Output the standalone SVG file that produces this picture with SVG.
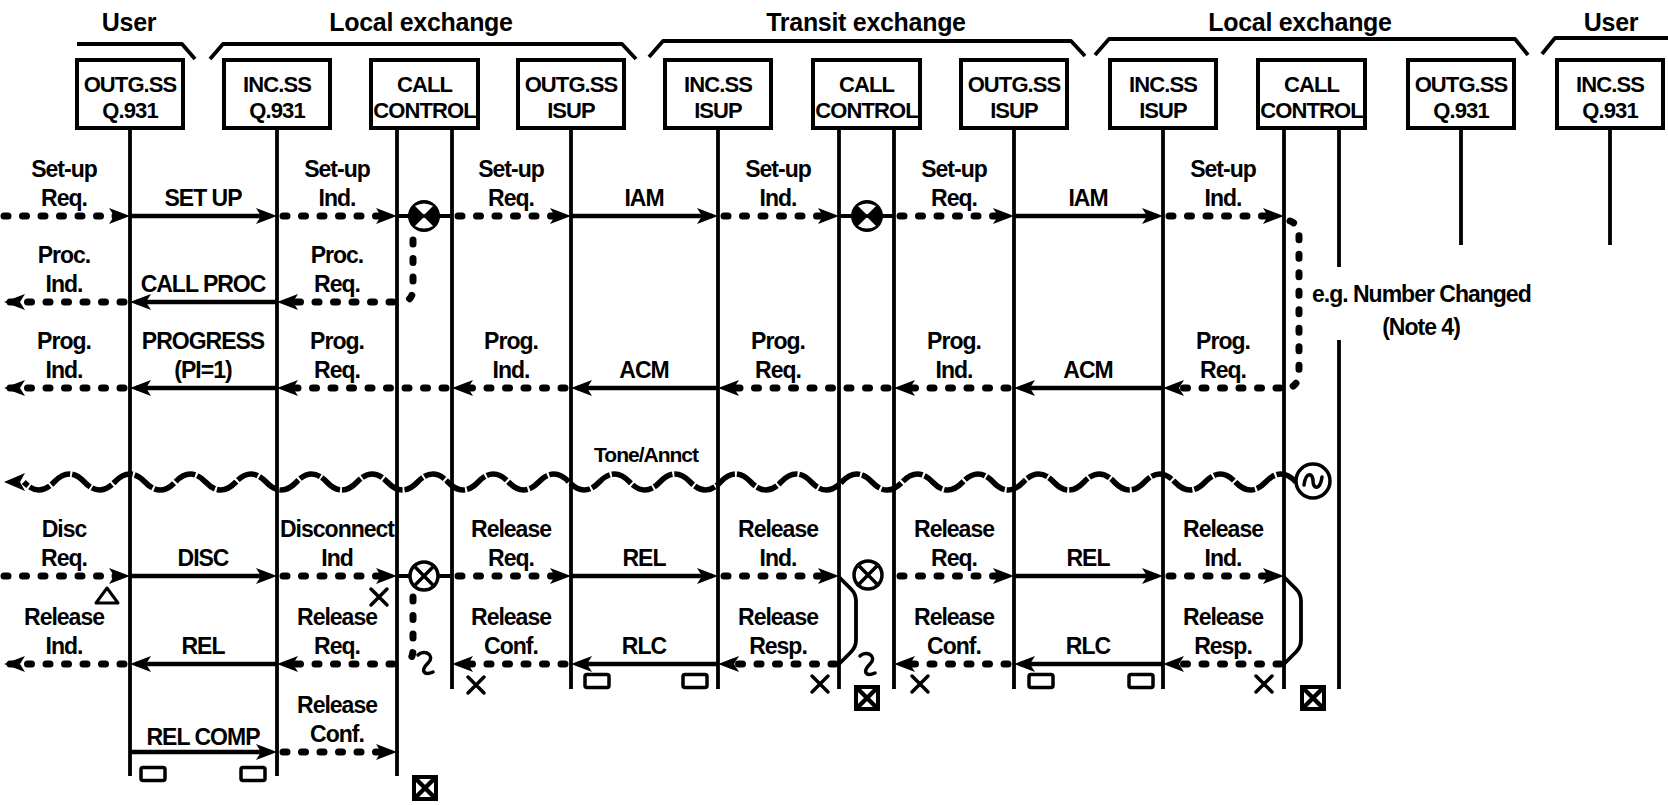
<svg xmlns="http://www.w3.org/2000/svg" width="1668" height="805" viewBox="0 0 1668 805">
<defs>
<style>
text{font-family:"Liberation Sans",Arial,Helvetica,sans-serif;font-weight:bold;fill:#000}
.tt{font-size:25px;letter-spacing:-0.3px;text-anchor:middle}
.bt{font-size:22px;letter-spacing:-0.9px;text-anchor:middle}
.lb{font-size:23px;letter-spacing:-1px;text-anchor:middle}
.box{fill:#fff;stroke:#000;stroke-width:4}
.ll{stroke:#000;stroke-width:3.8;fill:none}
.brk{stroke:#000;stroke-width:3.8;fill:none;stroke-linejoin:round}
.sol{stroke:#000;stroke-width:4.5;fill:none;marker-end:url(#ah)}
.dot{stroke:#000;stroke-width:7;stroke-linecap:round;stroke-dasharray:4 14.5;fill:none}
.da{marker-end:url(#ah)}
.stub{stroke:#000;stroke-width:4}
.sym{fill:#fff;stroke:#000;stroke-width:3.5}
.thk{stroke:#000;stroke-width:3.5;fill:none;stroke-linecap:round}
.wave{stroke:#000;stroke-width:5.5;fill:none;stroke-dasharray:22 2}
</style>
<marker id="ah" markerUnits="userSpaceOnUse" markerWidth="22" markerHeight="18" viewBox="0 0 22 18" refX="15" refY="9" orient="auto">
<path d="M0,1 L21,9 L0,17 L5,9 Z" fill="#000"/>
</marker>
<g id="ccf">
<circle r="16" fill="#000"/>
<path d="M-9,-10 Q0,-15 9,-10 L1.5,-2.5 Q0,-1 -1.5,-2.5 Z" fill="#fff"/>
<path d="M-9,10 Q0,15 9,10 L1.5,2.5 Q0,1 -1.5,2.5 Z" fill="#fff"/>
</g>
<g id="cco">
<circle r="14" class="sym"/>
<path d="M-9.9,-9.9 L9.9,9.9 M-9.9,9.9 L9.9,-9.9" class="thk"/>
</g>
<g id="sqx">
<rect x="-11" y="-11" width="22" height="22" fill="#fff" stroke="#000" stroke-width="4"/>
<path d="M-10,-10 L10,10 M-10,10 L10,-10" stroke="#000" stroke-width="4.5"/>
</g>
<g id="xm">
<path d="M-8,-8 L8,8 M-8,8 L8,-8" class="thk"/>
</g>
<g id="rr">
<rect x="-12" y="-6.5" width="24" height="13" rx="2" class="sym"/>
</g>
<g id="sq">
<path d="M-7,-9 C-1,-15 11,-9 3,-1 C-5,7 -1,12 8,8" class="thk" stroke-width="4"/>
</g>
</defs>
<rect width="1668" height="805" fill="#fff"/>

<g id="titles">
<text class="tt" x="129" y="31">User</text>
<text class="tt" x="421" y="31">Local exchange</text>
<text class="tt" x="866" y="31">Transit exchange</text>
<text class="tt" x="1300" y="31">Local exchange</text>
<text class="tt" x="1611" y="31">User</text>
<path class="brk" d="M77,44 L182,44 L195,59"/>
<path class="brk" d="M210,59 L223,44 L622,44 L636,59"/>
<path class="brk" d="M649,57 L663,41 L1071,41 L1085,56"/>
<path class="brk" d="M1095,55 L1109,39 L1515,39 L1528,55"/>
<path class="brk" d="M1542,54 L1555,38 L1668,38"/>
</g>

<g id="n1"><line class="ll" x1="130" y1="128" x2="130" y2="776"/><rect class="box" x="77" y="60" width="106" height="68"/><text class="bt" x="130" y="92">OUTG.SS</text><text class="bt" x="130" y="118">Q.931</text></g>
<g id="n2"><line class="ll" x1="277" y1="128" x2="277" y2="776"/><rect class="box" x="224" y="60" width="106" height="68"/><text class="bt" x="277" y="92">INC.SS</text><text class="bt" x="277" y="118">Q.931</text></g>
<g id="n3"><line class="ll" x1="397" y1="128" x2="397" y2="776"/><line class="ll" x1="452" y1="128" x2="452" y2="689"/><rect class="box" x="371" y="60" width="107" height="68"/><text class="bt" x="424.5" y="92">CALL</text><text class="bt" x="424.5" y="118">CONTROL</text></g>
<g id="n4"><line class="ll" x1="571" y1="128" x2="571" y2="689"/><rect class="box" x="518" y="60" width="106" height="68"/><text class="bt" x="571" y="92">OUTG.SS</text><text class="bt" x="571" y="118">ISUP</text></g>
<g id="n5"><line class="ll" x1="718" y1="128" x2="718" y2="689"/><rect class="box" x="665" y="60" width="106" height="68"/><text class="bt" x="718" y="92">INC.SS</text><text class="bt" x="718" y="118">ISUP</text></g>
<g id="n6"><line class="ll" x1="839" y1="128" x2="839" y2="689"/><line class="ll" x1="894" y1="128" x2="894" y2="689"/><rect class="box" x="813" y="60" width="107" height="68"/><text class="bt" x="866.5" y="92">CALL</text><text class="bt" x="866.5" y="118">CONTROL</text></g>
<g id="n7"><line class="ll" x1="1014" y1="128" x2="1014" y2="689"/><rect class="box" x="961" y="60" width="106" height="68"/><text class="bt" x="1014" y="92">OUTG.SS</text><text class="bt" x="1014" y="118">ISUP</text></g>
<g id="n8"><line class="ll" x1="1163" y1="128" x2="1163" y2="689"/><rect class="box" x="1110" y="60" width="106" height="68"/><text class="bt" x="1163" y="92">INC.SS</text><text class="bt" x="1163" y="118">ISUP</text></g>
<g id="n9"><line class="ll" x1="1284" y1="128" x2="1284" y2="689"/><line class="ll" x1="1339" y1="128" x2="1339" y2="267"/><line class="ll" x1="1339" y1="340" x2="1339" y2="689"/><rect class="box" x="1258" y="60" width="107" height="68"/><text class="bt" x="1311.5" y="92">CALL</text><text class="bt" x="1311.5" y="118">CONTROL</text></g>
<g id="n10"><line class="ll" x1="1461" y1="128" x2="1461" y2="245"/><rect class="box" x="1408" y="60" width="106" height="68"/><text class="bt" x="1461" y="92">OUTG.SS</text><text class="bt" x="1461" y="118">Q.931</text></g>
<g id="n11"><line class="ll" x1="1610" y1="128" x2="1610" y2="245"/><rect class="box" x="1557" y="60" width="106" height="68"/><text class="bt" x="1610" y="92">INC.SS</text><text class="bt" x="1610" y="118">Q.931</text></g>

<g id="connectors">
<line class="dot da" x1="4" y1="216" x2="124" y2="216"/>
<line class="sol" x1="131" y1="216" x2="271" y2="216"/>
<line class="dot da" x1="283" y1="216" x2="391" y2="216"/>
<line class="stub" x1="397" y1="216" x2="410" y2="216"/>
<line class="stub" x1="438" y1="216" x2="452" y2="216"/>
<line class="dot da" x1="458" y1="216" x2="565" y2="216"/>
<line class="sol" x1="572" y1="216" x2="712" y2="216"/>
<line class="dot da" x1="724" y1="216" x2="833" y2="216"/>
<line class="stub" x1="839" y1="216" x2="853" y2="216"/>
<line class="stub" x1="881" y1="216" x2="894" y2="216"/>
<line class="dot da" x1="900" y1="216" x2="1008" y2="216"/>
<line class="sol" x1="1015" y1="216" x2="1157" y2="216"/>
<line class="dot da" x1="1169" y1="216" x2="1278" y2="216"/>
<path class="dot" d="M413,240 L413,289 Q413,301 401,302"/>
<path class="dot" d="M1290,221 Q1299,224 1299,237 L1299,372 Q1299,385 1289,388"/>
<line class="dot da" x1="393" y1="302" x2="283" y2="302"/>
<line class="sol" x1="277" y1="302" x2="136" y2="302"/>
<line class="dot da" x1="124" y1="302" x2="10" y2="302"/>
<line class="dot da" x1="1280" y1="388" x2="1169" y2="388"/>
<line class="sol" x1="1163" y1="388" x2="1020" y2="388"/>
<line class="dot da" x1="1008" y1="388" x2="900" y2="388"/>
<line class="dot da" x1="888" y1="388" x2="724" y2="388"/>
<line class="sol" x1="718" y1="388" x2="577" y2="388"/>
<line class="dot da" x1="565" y1="388" x2="458" y2="388"/>
<line class="dot da" x1="446" y1="388" x2="283" y2="388"/>
<line class="sol" x1="277" y1="388" x2="136" y2="388"/>
<line class="dot da" x1="124" y1="388" x2="10" y2="388"/>
<path class="wave" d="M1296,482 q-15.14,-16 -30.29,0 t-30.29,0 t-30.29,0 t-30.29,0 t-30.29,0 t-30.29,0 t-30.29,0 t-30.29,0 t-30.29,0 t-30.29,0 t-30.29,0 t-30.29,0 t-30.29,0 t-30.29,0 t-30.29,0 t-30.29,0 t-30.29,0 t-30.29,0 t-30.29,0 t-30.29,0 t-30.29,0 t-30.29,0 t-30.29,0 t-30.29,0 t-30.29,0 t-30.29,0 t-30.29,0 t-30.29,0 t-30.29,0 t-30.29,0 t-30.29,0 t-30.29,0 t-30.29,0 t-30.29,0 t-30.29,0 t-30.29,0 t-30.29,0 t-30.29,0 t-30.29,0 t-30.29,0 t-30.29,0 t-30.29,0"/>
<path d="M4,482 L25,473 L20,482 L25,491 Z" fill="#000"/>
<line class="dot da" x1="4" y1="576" x2="124" y2="576"/>
<line class="sol" x1="131" y1="576" x2="271" y2="576"/>
<line class="dot da" x1="283" y1="576" x2="391" y2="576"/>
<line class="stub" x1="397" y1="576" x2="410" y2="576"/>
<line class="stub" x1="438" y1="576" x2="452" y2="576"/>
<line class="dot da" x1="458" y1="576" x2="565" y2="576"/>
<line class="sol" x1="572" y1="576" x2="712" y2="576"/>
<line class="dot da" x1="724" y1="576" x2="833" y2="576"/>
<line class="dot da" x1="900" y1="576" x2="1008" y2="576"/>
<line class="sol" x1="1015" y1="576" x2="1157" y2="576"/>
<line class="dot da" x1="1169" y1="576" x2="1278" y2="576"/>
<path class="dot" d="M413,597 L413,650 Q413,662 401,664"/>
<path class="brk" stroke-width="4.5" d="M839,577 L851,589 Q856,594 856,601 L856,640 Q856,647 851,652 L839,664"/>
<path class="brk" stroke-width="4.5" d="M1284,577 L1296,589 Q1301,594 1301,601 L1301,640 Q1301,647 1296,652 L1284,664"/>
<line class="dot da" x1="1280" y1="664" x2="1169" y2="664"/>
<line class="sol" x1="1163" y1="664" x2="1020" y2="664"/>
<line class="dot da" x1="1008" y1="664" x2="900" y2="664"/>
<line class="dot da" x1="835" y1="664" x2="724" y2="664"/>
<line class="sol" x1="718" y1="664" x2="577" y2="664"/>
<line class="dot da" x1="565" y1="664" x2="458" y2="664"/>
<line class="dot da" x1="393" y1="664" x2="283" y2="664"/>
<line class="sol" x1="277" y1="664" x2="136" y2="664"/>
<line class="dot da" x1="124" y1="664" x2="10" y2="664"/>
<line class="sol" x1="130" y1="752" x2="271" y2="752"/>
<line class="dot da" x1="283" y1="752" x2="391" y2="752"/>
</g>

<g id="symbols">
<use href="#ccf" x="424" y="216"/>
<use href="#ccf" x="867" y="216"/>
<use href="#cco" x="424" y="576"/>
<use href="#cco" x="868" y="575"/>
<g id="tone"><circle cx="1313" cy="481" r="17" class="sym" stroke-width="4"/><path d="M1304,485 C1306,471 1313,473 1313,481 C1313,489 1320,491 1322,477" class="thk" stroke-width="3.5"/></g>
<path d="M107,588 L118,603 L96,603 Z" fill="none" stroke="#000" stroke-width="3" stroke-linejoin="round"/>
<use href="#xm" x="379" y="597"/>
<use href="#xm" x="476" y="685"/>
<use href="#xm" x="820" y="684"/>
<use href="#xm" x="920" y="684"/>
<use href="#xm" x="1264" y="684"/>
<use href="#rr" x="153" y="774"/>
<use href="#rr" x="253" y="774"/>
<use href="#rr" x="597" y="681"/>
<use href="#rr" x="695" y="681"/>
<use href="#rr" x="1041" y="681"/>
<use href="#rr" x="1141" y="681"/>
<use href="#sqx" x="425" y="788"/>
<use href="#sqx" x="867" y="698"/>
<use href="#sqx" x="1313" y="698"/>
<use href="#sq" x="425" y="664"/>
<use href="#sq" x="867" y="665"/>
</g>

<g id="labels">
<text class="lb" x="64" y="177">Set-up</text><text class="lb" x="64" y="206">Req.</text>
<text class="lb" x="203" y="206">SET UP</text>
<text class="lb" x="337" y="177">Set-up</text><text class="lb" x="337" y="206">Ind.</text>
<text class="lb" x="511" y="177">Set-up</text><text class="lb" x="511" y="206">Req.</text>
<text class="lb" x="644" y="206">IAM</text>
<text class="lb" x="778" y="177">Set-up</text><text class="lb" x="778" y="206">Ind.</text>
<text class="lb" x="954" y="177">Set-up</text><text class="lb" x="954" y="206">Req.</text>
<text class="lb" x="1088" y="206">IAM</text>
<text class="lb" x="1223" y="177">Set-up</text><text class="lb" x="1223" y="206">Ind.</text>

<text class="lb" x="64" y="263">Proc.</text><text class="lb" x="64" y="292">Ind.</text>
<text class="lb" x="203" y="292">CALL PROC</text>
<text class="lb" x="337" y="263">Proc.</text><text class="lb" x="337" y="292">Req.</text>
<text class="lb" x="1312" y="302" style="text-anchor:start">e.g. Number Changed</text>
<text class="lb" x="1421" y="335">(Note 4)</text>

<text class="lb" x="64" y="349">Prog.</text><text class="lb" x="64" y="378">Ind.</text>
<text class="lb" x="203" y="349">PROGRESS</text><text class="lb" x="203" y="378">(PI=1)</text>
<text class="lb" x="337" y="349">Prog.</text><text class="lb" x="337" y="378">Req.</text>
<text class="lb" x="511" y="349">Prog.</text><text class="lb" x="511" y="378">Ind.</text>
<text class="lb" x="644" y="378">ACM</text>
<text class="lb" x="778" y="349">Prog.</text><text class="lb" x="778" y="378">Req.</text>
<text class="lb" x="954" y="349">Prog.</text><text class="lb" x="954" y="378">Ind.</text>
<text class="lb" x="1088" y="378">ACM</text>
<text class="lb" x="1223" y="349">Prog.</text><text class="lb" x="1223" y="378">Req.</text>

<text class="lb" x="646" y="462" style="font-size:21px">Tone/Annct</text>

<text class="lb" x="64" y="537">Disc</text><text class="lb" x="64" y="566">Req.</text>
<text class="lb" x="203" y="566">DISC</text>
<text class="lb" x="337" y="537">Disconnect</text><text class="lb" x="337" y="566">Ind</text>
<text class="lb" x="511" y="537">Release</text><text class="lb" x="511" y="566">Req.</text>
<text class="lb" x="644" y="566">REL</text>
<text class="lb" x="778" y="537">Release</text><text class="lb" x="778" y="566">Ind.</text>
<text class="lb" x="954" y="537">Release</text><text class="lb" x="954" y="566">Req.</text>
<text class="lb" x="1088" y="566">REL</text>
<text class="lb" x="1223" y="537">Release</text><text class="lb" x="1223" y="566">Ind.</text>

<text class="lb" x="64" y="625">Release</text><text class="lb" x="64" y="654">Ind.</text>
<text class="lb" x="203" y="654">REL</text>
<text class="lb" x="337" y="625">Release</text><text class="lb" x="337" y="654">Req.</text>
<text class="lb" x="511" y="625">Release</text><text class="lb" x="511" y="654">Conf.</text>
<text class="lb" x="644" y="654">RLC</text>
<text class="lb" x="778" y="625">Release</text><text class="lb" x="778" y="654">Resp.</text>
<text class="lb" x="954" y="625">Release</text><text class="lb" x="954" y="654">Conf.</text>
<text class="lb" x="1088" y="654">RLC</text>
<text class="lb" x="1223" y="625">Release</text><text class="lb" x="1223" y="654">Resp.</text>

<text class="lb" x="203" y="745">REL COMP</text>
<text class="lb" x="337" y="713">Release</text><text class="lb" x="337" y="742">Conf.</text>
</g>
</svg>
